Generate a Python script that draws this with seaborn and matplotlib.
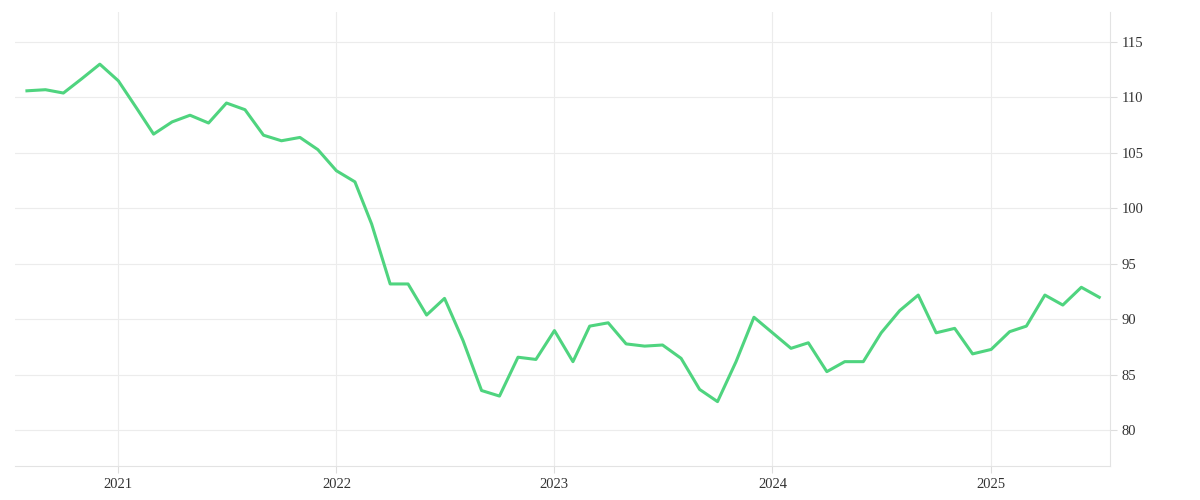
import matplotlib
matplotlib.use("Agg")
import matplotlib.pyplot as plt
import matplotlib.dates as mdates
import seaborn as sns
import pandas as pd

start_month = "2020-08-01"
values = [110.6, 110.7, 110.4, 111.7, 113.0, 111.5, 109.0, 106.7, 107.8, 108.4, 107.7, 109.5,
          108.9, 106.6, 106.1, 106.4, 105.3, 103.4, 102.4, 98.6, 93.2, 93.2, 90.4, 91.9,
          88.1, 83.6, 83.1, 86.6, 86.4, 89.0, 86.2, 89.4, 89.7, 87.8, 87.6, 87.7,
          86.5, 83.7, 82.6, 86.2, 90.2, 88.8, 87.4, 87.9, 85.3, 86.2, 86.2, 88.8,
          90.8, 92.2, 88.8, 89.2, 86.9, 87.3, 88.9, 89.4, 92.2, 91.3, 92.9, 92.0]
y_ticks = [80, 85, 90, 95, 100, 105, 110, 115]

dates = pd.date_range(start_month, periods=len(values), freq="MS")
df = pd.DataFrame({"date": dates, "value": values})

plt.rcParams["font.family"] = "Liberation Serif"
fig, ax = plt.subplots(figsize=(12, 5), dpi=100)
fig.subplots_adjust(left=0.0125, right=0.925, top=0.976, bottom=0.068)
sns.lineplot(data=df, x="date", y="value", ax=ax, color="#4fd47f", linewidth=2.2)

ax.set_xlim(pd.Timestamp("2020-07-12"), pd.Timestamp("2025-07-19"))
ax.set_ylim(76.8, 117.7)
ax.set_yticks(y_ticks)
ax.yaxis.tick_right()
ax.xaxis.set_major_locator(mdates.YearLocator())
ax.xaxis.set_major_formatter(mdates.DateFormatter("%Y"))
ax.grid(True, color="#ececec", linewidth=0.8)
ax.set_xlabel("")
ax.set_ylabel("")
for s in ["top", "left"]:
    ax.spines[s].set_visible(False)
for s in ["right", "bottom"]:
    ax.spines[s].set_color("#e3e3e3")
ax.tick_params(axis="both", colors="#333333", labelsize=10.5, length=5, width=0.8)
ax.tick_params(axis="both", color="#dddddd")
fig.savefig("out.png")
